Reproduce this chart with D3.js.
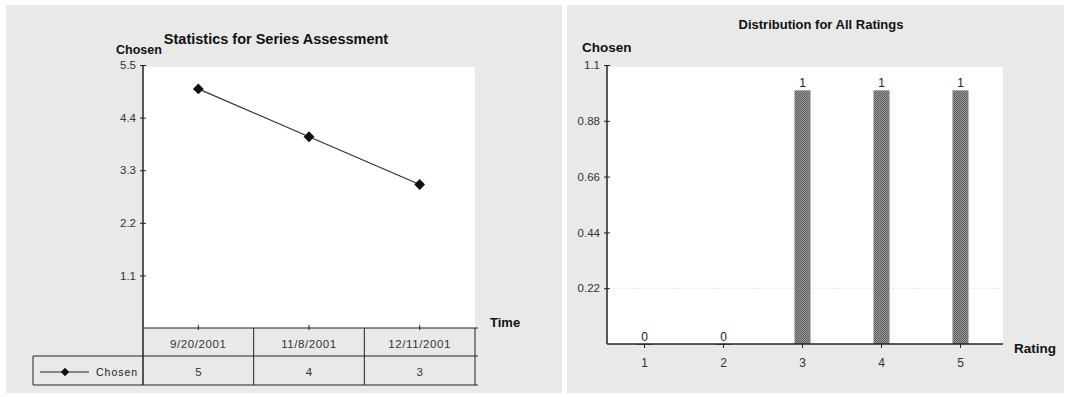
<!DOCTYPE html>
<html>
<head>
<meta charset="utf-8">
<script src="https://cdn.jsdelivr.net/npm/d3@7"></script>
<style>
  html, body { margin: 0; padding: 0; background: #fff; }
  svg { display: block; }
  text { font-family: "Liberation Sans", Arial, sans-serif; }
</style>
</head>
<body>
<svg id="chart" width="1068" height="397"></svg>
<script>
// Series assessment over time
const dates = ["9/20/2001", "11/8/2001", "12/11/2001"];
const chosenValues = [5, 4, 3];
const lineTicks = [1.1, 2.2, 3.3, 4.4, 5.5];

// Rating distribution
const ratings = ["1", "2", "3", "4", "5"];
const ratingCounts = [0, 0, 1, 1, 1];
const barTicks = [0.22, 0.44, 0.66, 0.88, 1.1];

const svg = d3.select("#chart");
const narrow = "'Liberation Sans Narrow', 'Arial Narrow', sans-serif";

// dithered fill for bars
const defs = svg.append("defs");
const pat = defs.append("pattern").attr("id", "dither")
  .attr("width", 2).attr("height", 2).attr("patternUnits", "userSpaceOnUse");
pat.append("rect").attr("width", 2).attr("height", 2).attr("fill", "#9a9a9a");
pat.append("rect").attr("width", 1).attr("height", 1).attr("fill", "#5c5c5c");
pat.append("rect").attr("x", 1).attr("y", 1).attr("width", 1).attr("height", 1).attr("fill", "#5c5c5c");

// panel backgrounds
svg.append("rect").attr("x", 6).attr("y", 5).attr("width", 556).attr("height", 388).attr("fill", "#e9e9e9");
svg.append("rect").attr("x", 567).attr("y", 5).attr("width", 497).attr("height", 388).attr("fill", "#e9e9e9");

function styleAxis(g, fs) {
  g.select(".domain").remove();
  g.selectAll("line").attr("stroke", "#222");
  g.selectAll("text").attr("fill", "#333").style("font-size", fs + "px");
}

/* ---------- Left: line chart with data table ---------- */
{
  const x0 = 143, x1 = 475, yTop = 65, yBot = 328;
  const y = d3.scaleLinear().domain([0, 5.5]).range([yBot, yTop]);
  const x = d3.scaleBand().domain(dates).range([x0, x1]);
  const cx = d => x(d) + x.bandwidth() / 2;

  svg.append("rect").attr("x", x0).attr("y", yTop + 2).attr("width", x1 - x0).attr("height", yBot - yTop - 2).attr("fill", "#fff");

  svg.append("text").attr("x", 276).attr("y", 44).attr("text-anchor", "middle")
    .style("font-size", "14.5px").style("font-weight", "bold").attr("fill", "#111")
    .text("Statistics for Series Assessment");
  svg.append("text").attr("x", 116).attr("y", 54)
    .style("font-size", "12.5px").style("font-weight", "bold").attr("fill", "#111").text("Chosen");

  const ya = svg.append("g").attr("transform", `translate(${x0},0)`)
    .call(d3.axisLeft(y).tickValues(lineTicks).tickSize(3).tickPadding(4).tickFormat(d3.format(".1f")));
  styleAxis(ya, 11.5);
  ya.selectAll(".tick line").attr("x2", 3).attr("x1", -3);
  svg.append("line").attr("x1", x0).attr("x2", x0).attr("y1", yTop).attr("y2", yBot + 57)
    .attr("stroke", "#222").attr("stroke-width", 1.5);

  // x axis line and category ticks
  svg.append("line").attr("x1", x0).attr("x2", x1 + 3).attr("y1", yBot).attr("y2", yBot).attr("stroke", "#222").attr("stroke-width", 1.2);
  svg.selectAll(".xt").data(dates).join("line")
    .attr("x1", d => cx(d)).attr("x2", d => cx(d)).attr("y1", yBot - 3).attr("y2", yBot + 2).attr("stroke", "#222");
  svg.append("text").attr("x", 490).attr("y", 327).style("font-size", "13px").style("font-weight", "bold").attr("fill", "#111").text("Time");

  // data table
  const rowMid = yBot + 28, rowBot = yBot + 57, legL = 33;
  svg.append("line").attr("x1", legL).attr("x2", x1 + 3).attr("y1", rowMid).attr("y2", rowMid).attr("stroke", "#222");
  svg.append("line").attr("x1", legL).attr("x2", x1 + 3).attr("y1", rowBot).attr("y2", rowBot).attr("stroke", "#222");
  svg.append("line").attr("x1", legL).attr("x2", legL).attr("y1", rowMid).attr("y2", rowBot).attr("stroke", "#222");
  svg.selectAll(".vl").data(dates).join("line")
    .attr("x1", d => x(d) + x.bandwidth()).attr("x2", d => x(d) + x.bandwidth())
    .attr("y1", yBot).attr("y2", rowBot).attr("stroke", "#222");
  svg.selectAll(".dl").data(dates).join("text")
    .attr("x", d => cx(d)).attr("y", yBot + 20).attr("text-anchor", "middle")
    .style("font-size", "11.5px").style("letter-spacing", "0.6px").attr("fill", "#333").text(d => d);
  svg.selectAll(".vv").data(chosenValues).join("text")
    .attr("x", (d, i) => cx(dates[i])).attr("y", rowMid + 20).attr("text-anchor", "middle")
    .style("font-size", "11.5px").attr("fill", "#333").text(d => d);

  // legend in table
  svg.append("line").attr("x1", 40).attr("x2", 89).attr("y1", rowMid + 16).attr("y2", rowMid + 16).attr("stroke", "#222");
  svg.append("path").attr("d", d3.symbol(d3.symbolDiamond2, 45)()).attr("transform", `translate(65,${rowMid + 16})`).attr("fill", "#111");
  svg.append("text").attr("x", 96).attr("y", rowMid + 20).style("font-size", "10.5px").style("letter-spacing", "1px")
    .attr("fill", "#222").text("Chosen");

  // series
  const line = d3.line().x((d, i) => cx(dates[i])).y(d => y(d));
  svg.append("path").datum(chosenValues).attr("d", line).attr("fill", "none").attr("stroke", "#333").attr("stroke-width", 1.2);
  svg.selectAll(".pt").data(chosenValues).join("path")
    .attr("d", d3.symbol(d3.symbolDiamond2, 75)())
    .attr("transform", (d, i) => `translate(${cx(dates[i])},${y(d)})`).attr("fill", "#111");
}

/* ---------- Right: rating distribution bars ---------- */
{
  const x0 = 607, x1 = 1003, yTop = 65, yBot = 344;
  const y = d3.scaleLinear().domain([0, 1.1]).range([yBot, yTop]);
  const x = d3.scaleBand().domain(ratings).range([x0 - 2, x1 - 3]);
  const cx = d => x(d) + x.bandwidth() / 2;
  const bw = 16;

  svg.append("rect").attr("x", x0).attr("y", yTop + 2).attr("width", x1 - x0).attr("height", yBot - yTop - 2).attr("fill", "#fff");
  svg.append("line").attr("x1", x0).attr("x2", x1).attr("y1", y(0.22)).attr("y2", y(0.22))
    .attr("stroke", "#e4e4e4").attr("stroke-dasharray", "3,2");

  svg.append("text").attr("x", 821).attr("y", 29).attr("text-anchor", "middle")
    .style("font-family", narrow)
    .style("font-size", "13px").style("font-weight", "bold").attr("fill", "#111")
    .text("Distribution for All Ratings");
  svg.append("text").attr("x", 582).attr("y", 52)
    .style("font-family", narrow)
    .style("font-size", "13.5px").style("font-weight", "bold").attr("fill", "#111").text("Chosen");

  const ya = svg.append("g").attr("transform", `translate(${x0},0)`)
    .call(d3.axisLeft(y).tickValues(barTicks).tickSize(3).tickPadding(4).tickFormat(d => String(+d.toFixed(2))));
  styleAxis(ya, 11.5);
  ya.selectAll(".tick line").attr("x2", 3).attr("x1", -3);
  svg.append("line").attr("x1", x0).attr("x2", x0).attr("y1", yTop).attr("y2", yBot).attr("stroke", "#222").attr("stroke-width", 1.5);

  svg.selectAll(".bar").data(ratingCounts).join("rect")
    .attr("x", (d, i) => cx(ratings[i]) - bw / 2).attr("width", bw)
    .attr("y", d => y(d)).attr("height", d => Math.max(y(0) - y(d), 1))
    .attr("fill", "url(#dither)");

  svg.append("line").attr("x1", x0).attr("x2", x1).attr("y1", yBot).attr("y2", yBot).attr("stroke", "#222").attr("stroke-width", 1.5);
  svg.selectAll(".xt").data(ratings).join("line")
    .attr("x1", d => cx(d)).attr("x2", d => cx(d)).attr("y1", yBot).attr("y2", yBot + 4).attr("stroke", "#222");
  svg.selectAll(".xl").data(ratings).join("text")
    .attr("x", d => cx(d)).attr("y", yBot + 23).attr("text-anchor", "middle")
    .style("font-size", "12px").attr("fill", "#333").text(d => d);

  svg.selectAll(".vl").data(ratingCounts).join("text")
    .attr("x", (d, i) => cx(ratings[i])).attr("y", d => y(d) - 3).attr("text-anchor", "middle")
    .style("font-size", "12px").attr("fill", "#222").text(d => d);

  svg.append("text").attr("x", 1014).attr("y", 353)
    .style("font-family", narrow)
    .style("font-size", "13.5px").style("font-weight", "bold").attr("fill", "#111").text("Rating");
}
</script>
</body>
</html>
